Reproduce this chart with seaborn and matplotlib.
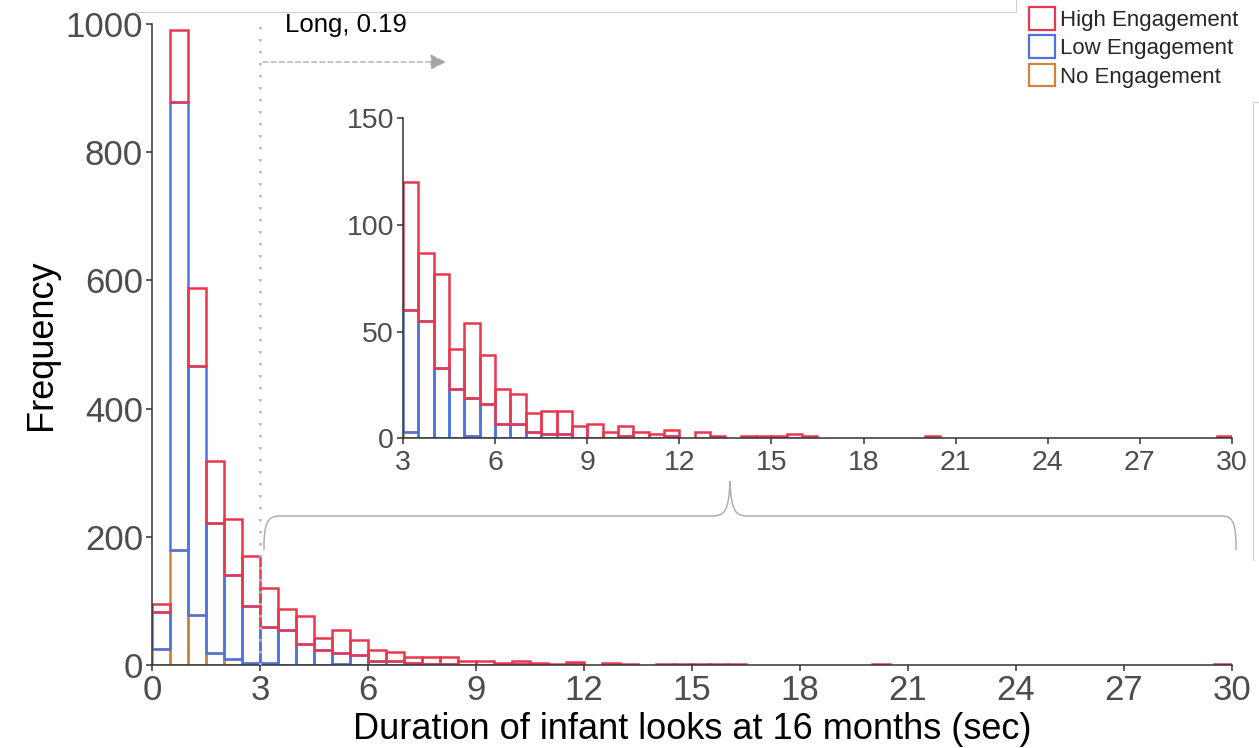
import numpy as np
import pandas as pd
import matplotlib
matplotlib.use("Agg")
import matplotlib.pyplot as plt
from matplotlib.patches import Patch, PathPatch
from matplotlib.path import Path
from matplotlib.lines import Line2D
import seaborn as sns

# 0.5 s bins from 0 to 30 s
bin_width = 0.5
bin_edges = np.arange(0, 30 + bin_width, bin_width)
bin_centers = bin_edges[:-1] + bin_width / 2

levels = ["High Engagement", "Low Engagement", "No Engagement"]
colors = ["#E8384F", "#4F72E3", "#D4823A"]

# Look counts per bin (60 bins, starting at 0 s)
high_counts = [13, 112, 122, 96, 86, 78, 60, 32, 44, 19,
               35, 23, 16, 14, 9, 11, 11, 6, 7, 3,
               5, 3, 2, 3, 0, 3, 1, 0, 1, 1,
               1, 2, 1, 0, 0, 0, 0, 0, 0, 0,
               1, 0, 0, 0, 0, 0, 0, 0, 0, 0,
               0, 0, 0, 0, 0, 0, 0, 0, 0, 1]
low_counts = [57, 698, 388, 204, 131, 89, 57, 55, 33, 23,
              18, 16, 7, 7, 3, 2, 2, 0, 0, 0,
              1, 0, 0, 1, 0, 0, 0, 0, 0, 0,
              0, 0, 0, 0, 0, 0, 0, 0, 0, 0,
              0, 0, 0, 0, 0, 0, 0, 0, 0, 0,
              0, 0, 0, 0, 0, 0, 0, 0, 0, 0]
no_counts = [25, 180, 78, 18, 10, 3, 3, 0, 0, 0,
             1, 0, 0, 0, 0, 0, 0, 0, 0, 0,
             0, 0, 0, 0, 0, 0, 0, 0, 0, 0,
             0, 0, 0, 0, 0, 0, 0, 0, 0, 0,
             0, 0, 0, 0, 0, 0, 0, 0, 0, 0,
             0, 0, 0, 0, 0, 0, 0, 0, 0, 0]

main_xticks = list(range(0, 31, 3))
main_yticks = [0, 200, 400, 600, 800, 1000]
inset_xticks = list(range(3, 31, 3))
inset_yticks = [0, 50, 100, 150]

df = pd.concat([
    pd.DataFrame({"duration": bin_centers, "count": counts, "engagement": lvl})
    for lvl, counts in zip(levels, [high_counts, low_counts, no_counts])
], ignore_index=True)

sns.set_style("ticks")
plt.rcParams["font.family"] = ["Liberation Sans", "DejaVu Sans"]

W, H = 1259, 748
fig = plt.figure(figsize=(W / 100, H / 100), dpi=100)


def fx(px):
    return px / W


def fy(py):
    return 1 - py / H


tick_gray = "#4d4d4d"


def style_axes(ax, labelsize):
    sns.despine(ax=ax)
    for side in ("left", "bottom"):
        ax.spines[side].set_linewidth(1.1)
        ax.spines[side].set_color("#333333")
    ax.tick_params(axis="both", direction="out", length=4, width=1.1,
                   color="#333333", labelsize=labelsize,
                   labelcolor=tick_gray, pad=2.5)


def stacked_hist(ax, data, lo, hi):
    sns.histplot(data=data, x="duration", weights="count", hue="engagement",
                 hue_order=levels, palette=colors, binwidth=bin_width,
                 binrange=(lo, hi), multiple="stack", element="bars",
                 fill=False, linewidth=1.8, legend=False, ax=ax)
    for p in ax.patches:
        if p.get_height() == 0:
            p.set_visible(False)


# Main histogram
ax = fig.add_axes([fx(152), fy(665), fx(1232) - fx(152), fy(24) - fy(665)])
stacked_hist(ax, df, 0, 30)
ax.set_xlim(0, 30)
ax.set_ylim(0, 1000)
ax.set_xticks(main_xticks)
ax.set_yticks(main_yticks)
style_axes(ax, 25)
ax.set_xlabel("Duration of infant looks at 16 months (sec)", fontsize=26,
              color="black")
ax.xaxis.set_label_coords(0.5, -0.073)
ax.xaxis.label.set_va("top")
ax.set_ylabel("Frequency", fontsize=26, color="black", labelpad=5)

# Cut-off for long looks
ax.axvline(3, color="#b8b8b8", ls=(0, (1, 3.8)), lw=1.8, zorder=5)
fig.text(fx(285), fy(13), "Long, 0.19", fontsize=18.5, color="black",
         ha="left", va="top")
ax.annotate("", xy=(fx(446), fy(62)), xytext=(fx(263), fy(62)),
            xycoords="figure fraction", textcoords="figure fraction",
            arrowprops=dict(arrowstyle="-|>", ls=(0, (4, 2.5)), lw=0.9,
                            color="#a6a6a6", mutation_scale=24,
                            shrinkA=0, shrinkB=0))

# Zoomed view of looks longer than 3 s
inset_df = df[df["duration"] >= 3]
ax_in = fig.add_axes([fx(403), fy(438.5), fx(1232) - fx(403),
                      fy(118.3) - fy(438.5)])
stacked_hist(ax_in, inset_df, 3, 30)
ax_in.set_xlim(3, 30)
ax_in.set_ylim(0, 150)
ax_in.set_xticks(inset_xticks)
ax_in.set_yticks(inset_yticks)
style_axes(ax_in, 20.5)
ax_in.tick_params(axis="x", pad=4)
ax_in.set_xlabel("")
ax_in.set_ylabel("")
ax_in.patch.set_alpha(0)

# Brace linking the inset to the 3-30 s range
brace_pts = [(264, 550), (264, 525), (266, 516), (280, 516),
             (712, 516),
             (724, 516), (729, 512), (730, 481),
             (731, 512), (736, 516), (748, 516),
             (1222, 516),
             (1234, 516), (1236, 525), (1236, 550)]
brace_codes = [Path.MOVETO, Path.CURVE4, Path.CURVE4, Path.CURVE4,
               Path.LINETO,
               Path.CURVE4, Path.CURVE4, Path.CURVE4,
               Path.CURVE4, Path.CURVE4, Path.CURVE4,
               Path.LINETO,
               Path.CURVE4, Path.CURVE4, Path.CURVE4]
brace = Path([(fx(x), fy(y)) for x, y in brace_pts], brace_codes)
fig.add_artist(PathPatch(brace, transform=fig.transFigure, facecolor="none",
                         edgecolor="#b0b0b0", lw=1.1))

# Panel frame edges
frame_kw = dict(transform=fig.transFigure, color="#d0d0d0", lw=0.8)
fig.add_artist(Line2D([fx(135), fx(1016), fx(1016)], [fy(12), fy(12), fy(0)],
                      **frame_kw))
fig.add_artist(Line2D([fx(1259), fx(1253), fx(1253)], [fy(102), fy(102), fy(560)],
                      **frame_kw))

# Legend
handles = [Patch(facecolor="none", edgecolor=c, linewidth=1.6) for c in colors]
fig.legend(handles, levels, loc="upper left",
           bbox_to_anchor=(fx(1029), fy(7)), bbox_transform=fig.transFigure,
           frameon=False, fontsize=16, handlelength=1.15, handleheight=1.2,
           handletextpad=0.25, labelspacing=0.2, borderpad=0,
           borderaxespad=0)

fig.savefig("out.png", dpi=100)
